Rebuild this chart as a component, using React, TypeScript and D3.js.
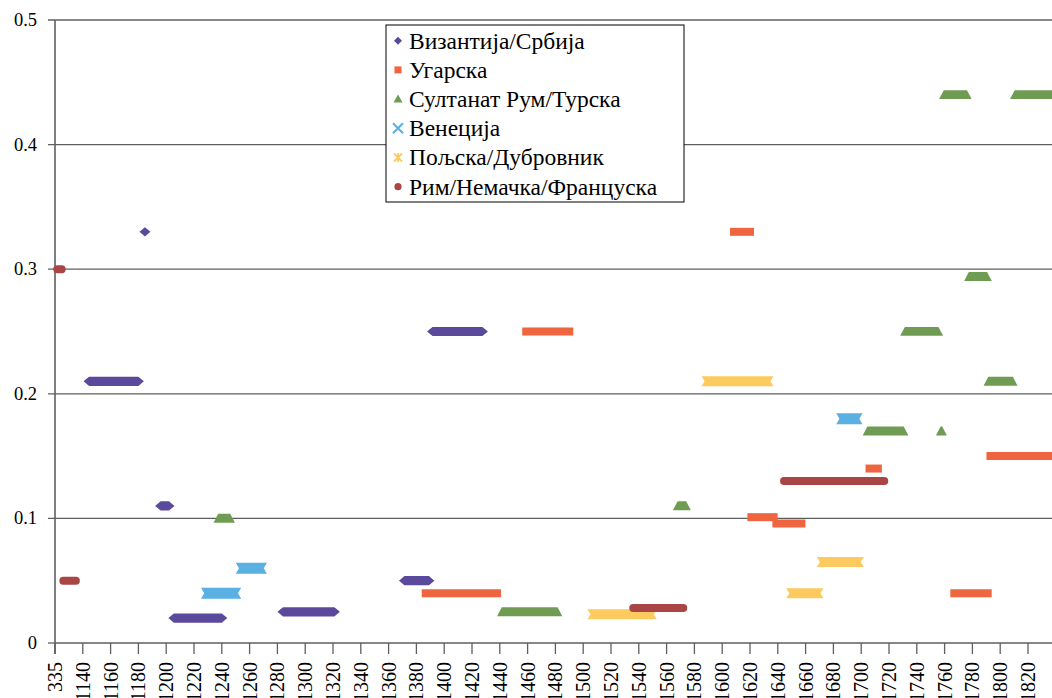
import * as d3 from "d3";

// each entry: [first year, last year, value]
type Span = [number, number, number];

const byzantiumSerbia: Span[] = [
  [1144.5, 1180, 0.21],
  [1184.7, 1184.7, 0.33],
  [1196, 1202, 0.11],
  [1205.5, 1240, 0.02],
  [1284, 1321, 0.025],
  [1371.4, 1389, 0.05],
  [1391.6, 1427.5, 0.25],
];
const hungary: Span[] = [
  [1386.7, 1438, 0.04],
  [1459, 1490, 0.25],
  [1608.5, 1620, 0.33],
  [1621, 1637, 0.101],
  [1639, 1657, 0.096],
  [1706, 1712, 0.14],
  [1767, 1791, 0.04],
  [1793, 1840, 0.15],
];
const sultanateTurkey: Span[] = [
  [1238, 1245.5, 0.1],
  [1442, 1481, 0.025],
  [1568.5, 1573.5, 0.11],
  [1705, 1730, 0.17],
  [1732, 1755, 0.25],
  [1757.7, 1757.7, 0.17],
  [1760, 1775.5, 0.44],
  [1778, 1790, 0.294],
  [1792, 1808.5, 0.21],
  [1811, 1840, 0.44],
];
const venice: Span[] = [
  [1229, 1250, 0.04],
  [1254, 1268.5, 0.06],
  [1686, 1697, 0.18],
];
const polandDubrovnik: Span[] = [
  [1507, 1549, 0.023],
  [1589, 1633, 0.21],
  [1650, 1669, 0.04],
  [1672, 1698, 0.065],
];
const romeGermanyFrance: Span[] = [
  [1121.6, 1124.8, 0.3],
  [1126, 1135, 0.05],
  [1536, 1572, 0.028],
  [1644.5, 1716.6, 0.13],
];

const seriesNames = [
  "Византија/Србија",
  "Угарска",
  "Султанат Рум/Турска",
  "Венеција",
  "Пољска/Дубровник",
  "Рим/Немачка/Француска",
];
const seriesData = [
  byzantiumSerbia,
  hungary,
  sultanateTurkey,
  venice,
  polandDubrovnik,
  romeGermanyFrance,
];
const seriesColors = ["#5b4a9c", "#ee653f", "#6f9c52", "#5aafe3", "#fdca5f", "#a94645"];
const seriesMarkers = ["diamond", "square", "triangle", "x", "star", "circle"];

const xTickYears = [
  1120, 1140, 1160, 1180, 1200, 1220, 1240, 1260, 1280, 1300, 1320, 1340, 1360,
  1380, 1400, 1420, 1440, 1460, 1480, 1500, 1520, 1540, 1560, 1580, 1600, 1620,
  1640, 1660, 1680, 1700, 1720, 1740, 1760, 1780, 1800, 1820,
];
const xTickLabels = [
  "335", "1140", "1160", "1180", "1200", "1220", "1240", "1260", "1280", "1300",
  "1320", "1340", "1360", "1380", "1400", "1420", "1440", "1460", "1480", "1500",
  "1520", "1540", "1560", "1580", "1600", "1620", "1640", "1660", "1680", "1700",
  "1720", "1740", "1760", "1780", "1800", "1820",
];
const yTicks = [0, 0.1, 0.2, 0.3, 0.4, 0.5];
const yTickLabels = ["0", "0.1", "0.2", "0.3", "0.4", "0.5"];

const W = 1052;
const H = 698;
const AXIS = "#5f5f5f";
const serif = {
  fontFamily: "Liberation Serif, Tinos, Times New Roman, FreeSerif, DejaVu Serif, serif",
};

const x = d3.scaleLinear().domain([1120, 1820]).range([55, 1028]);
const y = d3.scaleLinear().domain([0, 0.5]).range([643, 20]);

// outline of one marker swept from x1 to x2 (identical points overlap into a band)
function bandPath(kind: string, x1: number, x2: number, yy: number): string {
  const p = d3.path();
  if (kind === "diamond") {
    const hw = 5.5, hh = 4.6;
    p.moveTo(x1 - hw, yy);
    p.lineTo(x1, yy - hh);
    p.lineTo(x2, yy - hh);
    p.lineTo(x2 + hw, yy);
    p.lineTo(x2, yy + hh);
    p.lineTo(x1, yy + hh);
  } else if (kind === "square") {
    const h = 4;
    p.rect(x1 - h, yy - h, x2 - x1 + 2 * h, 2 * h);
    return p.toString();
  } else if (kind === "triangle") {
    const hw = 5.5;
    p.moveTo(x1 - hw, yy + 4.3);
    p.lineTo(x1 - 0.8, yy - 4.6);
    p.lineTo(x2 + 0.8, yy - 4.6);
    p.lineTo(x2 + hw, yy + 4.3);
  } else if (kind === "circle") {
    const r = 4;
    p.moveTo(x1, yy - r);
    p.lineTo(x2, yy - r);
    p.arc(x2, yy, r, -Math.PI / 2, Math.PI / 2);
    p.lineTo(x1, yy + r);
    p.arc(x1, yy, r, Math.PI / 2, (3 * Math.PI) / 2);
  } else {
    // x and star: ribbon with notched ends
    const hw = 5.5, hh = kind === "x" ? 5.5 : 5, d = 3.2;
    p.moveTo(x1 - hw, yy - hh);
    p.lineTo(x2 + hw, yy - hh);
    p.lineTo(x2 + hw - d, yy);
    p.lineTo(x2 + hw, yy + hh);
    p.lineTo(x1 - hw, yy + hh);
    p.lineTo(x1 - hw + d, yy);
  }
  p.closePath();
  return p.toString();
}

function LegendMarker({ kind, color }: { kind: string; color: string }) {
  if (kind === "diamond") return <path d="M-4,0L0,-4L4,0L0,4Z" fill={color} />;
  if (kind === "square") return <rect x={-3.5} y={-3.5} width={7} height={7} fill={color} />;
  if (kind === "triangle") return <path d="M-4.5,3.5L0,-4.5L4.5,3.5Z" fill={color} />;
  if (kind === "x") return <path d="M-5,-5L5,5M-5,5L5,-5" stroke={color} strokeWidth={2} />;
  if (kind === "star")
    return <path d="M-4,-4L4,4M-4,4L4,-4M0,-4.5L0,4.5" stroke={color} strokeWidth={1.8} />;
  return <circle r={3.6} fill={color} />;
}

const LEG_X = 398;
const LEG_Y0 = 40.7;
const LEG_DY = 29.2;

export default function App() {
  return (
    <svg width={W} height={H} style={{ position: "absolute", left: 0, top: 0 }}>
      <rect x={0} y={0} width={W} height={H} fill="#fff" />
      {/* gridlines */}
      {yTicks.slice(1).map((t) => (
        <line key={"g" + t} x1={48} x2={W} y1={y(t)} y2={y(t)} stroke={AXIS} strokeWidth={1.3} />
      ))}
      <line x1={48} x2={55} y1={y(0)} y2={y(0)} stroke={AXIS} strokeWidth={1.3} />
      <line x1={55} x2={55} y1={y(0.5)} y2={654} stroke={AXIS} strokeWidth={1.6} />
      {/* x axis */}
      <line x1={55} x2={W} y1={y(0)} y2={y(0)} stroke={AXIS} strokeWidth={1.3} />
      {xTickYears.map((t) => (
        <line key={"xt" + t} x1={x(t)} x2={x(t)} y1={y(0)} y2={y(0) + 11} stroke={AXIS} strokeWidth={1.3} />
      ))}

      {/* y labels */}
      {yTicks.map((t, i) => (
        <text
          key={"yl" + t}
          x={37}
          y={y(t) + 6}
          textAnchor="end"
          fontSize={18.5}
          fill="#000"
          style={serif}
        >
          {yTickLabels[i]}
        </text>
      ))}
      {/* x labels */}
      {xTickYears.map((t, i) => (
        <text
          key={"xl" + t}
          transform={`translate(${x(t) + 7},662) rotate(-90)`}
          textAnchor="end"
          fontSize={20}
          fill="#000"
          style={serif}
        >
          {xTickLabels[i]}
        </text>
      ))}

      {/* series */}
      {seriesData.map((spans, si) =>
        spans.map((d, j) => (
          <path
            key={`s${si}-${j}`}
            d={bandPath(seriesMarkers[si], x(d[0]), x(d[1]), y(d[2]))}
            fill={seriesColors[si]}
          />
        ))
      )}

      {/* legend */}
      <rect x={386} y={25} width={298} height={177} fill="#fff" stroke="#000" strokeWidth={1} />
      {seriesNames.map((n, i) => (
        <g key={"lm" + i} transform={`translate(${LEG_X},${LEG_Y0 + i * LEG_DY})`}>
          <LegendMarker kind={seriesMarkers[i]} color={seriesColors[i]} />
        </g>
      ))}
      {seriesNames.map((n, i) => (
        <text
          key={"lt" + i}
          x={LEG_X + 11}
          y={LEG_Y0 + i * LEG_DY + 7.8}
          fontSize={23.5}
          fill="#000"
          style={serif}
        >
          {n}
        </text>
      ))}
    </svg>
  );
}
